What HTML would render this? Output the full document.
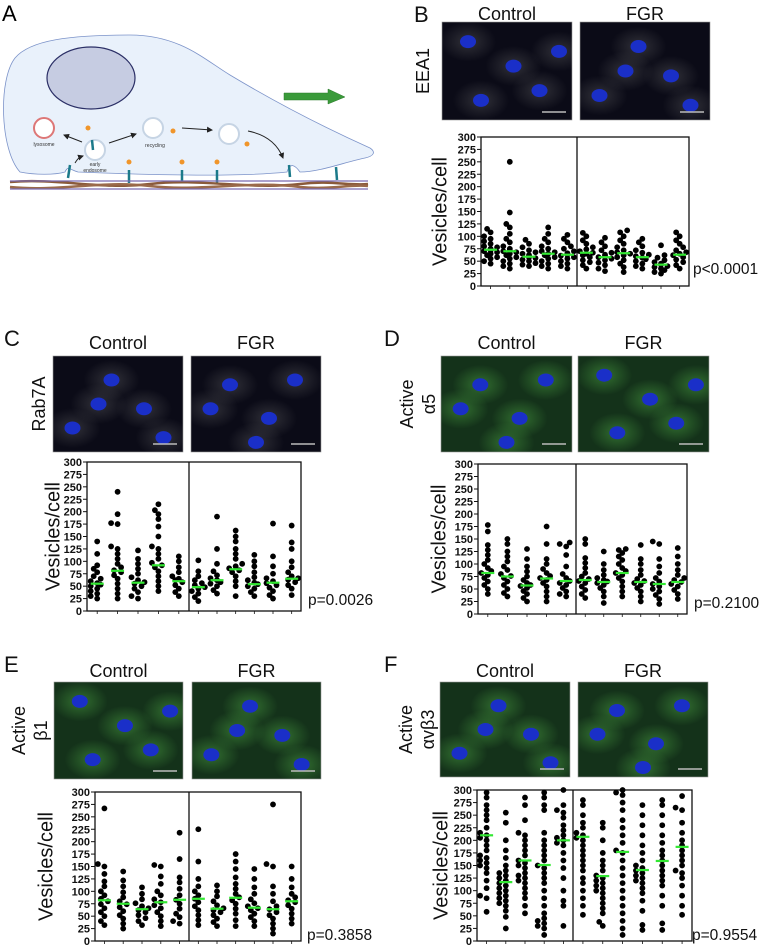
<!DOCTYPE html>
<html><head><meta charset="utf-8">
<style>
html,body{margin:0;padding:0;background:#fff;}
svg{display:block;font-family:"Liberation Sans",Arial,sans-serif;}
.tick{font-size:11px;font-weight:bold;fill:#111;}
</style></head>
<body>
<svg id="fig" width="760" height="947" viewBox="0 0 760 947" xmlns="http://www.w3.org/2000/svg">
<defs id="defs">
<radialGradient id="gs" cx="50%" cy="50%" r="50%"><stop offset="0" stop-color="#3f8a3a" stop-opacity="0.7"/><stop offset="1" stop-color="#3f8a3a" stop-opacity="0"/></radialGradient>
<radialGradient id="gg" cx="50%" cy="50%" r="50%"><stop offset="0" stop-color="#777" stop-opacity="0.35"/><stop offset="1" stop-color="#777" stop-opacity="0"/></radialGradient>
<marker id="ah" markerWidth="6" markerHeight="6" refX="5" refY="3" orient="auto"><path d="M0,0 L6,3 L0,6z" fill="#222"/></marker>
</defs>

<!-- Panel A -->
<g>
<text x="2" y="21" font-size="22">A</text>
<path d="M20,172 C0,150 -2,80 15,58 C30,40 70,35 130,35 C180,35 205,60 230,75 C280,105 330,130 370,148 C376,152 374,156 365,158 C345,162 320,172 300,172 C295,165 290,162 287,172 C240,177 150,175 78,172 C70,170 68,165 65,172 C55,175 35,175 20,172Z" fill="#e9f1fb" stroke="#7c93c9" stroke-width="0.8"/>
<ellipse cx="91" cy="78" rx="44" ry="31" fill="#c6cce2" stroke="#2b2f66" stroke-width="1.2"/>
<path d="M284,93 L328,93 L328,89 L345,97 L328,104 L328,100 L284,100Z" fill="#3a9a3a" stroke="#2b7a2b" stroke-width="0.5"/>
<circle cx="44" cy="128" r="10" fill="#fff" stroke="#d77" stroke-width="2"/>
<text x="44" y="146" font-size="5" text-anchor="middle" fill="#333">lysosome</text>
<circle cx="95" cy="150" r="10" fill="#fff" stroke="#c6d4e4" stroke-width="2"/>
<text x="95" y="166" font-size="5" text-anchor="middle" fill="#333">early</text>
<text x="95" y="172" font-size="5" text-anchor="middle" fill="#333">endosome</text>
<circle cx="153" cy="128" r="10" fill="#fff" stroke="#c6d4e4" stroke-width="2"/>
<text x="155" y="147" font-size="5" text-anchor="middle" fill="#333">recycling</text>
<circle cx="229" cy="134" r="10" fill="#fff" stroke="#c6d4e4" stroke-width="2"/>
<line x1="82" y1="142" x2="64" y2="135" stroke="#222" marker-end="url(#ah)"/>
<line x1="109" y1="143" x2="136" y2="134" stroke="#222" marker-end="url(#ah)"/>
<line x1="182" y1="128" x2="212" y2="130" stroke="#222" marker-end="url(#ah)"/>
<path d="M248,131 C268,135 278,145 283,158" fill="none" stroke="#222" marker-end="url(#ah)"/>
<path d="M75,163 C78,158 80,157 83,156" fill="none" stroke="#222" marker-end="url(#ah)"/>
<g fill="#f0952a"><circle cx="88" cy="128" r="2.5"/><circle cx="129" cy="162" r="2.5"/><circle cx="182" cy="162" r="2.5"/><circle cx="217" cy="162" r="2.5"/><circle cx="173" cy="131" r="2.5"/><circle cx="247" cy="144" r="2.5"/></g>
<g stroke="#1c7a8a" stroke-width="2.5"><line x1="70" y1="165" x2="68" y2="178"/><line x1="129" y1="170" x2="129" y2="183"/><line x1="182" y1="170" x2="182" y2="183"/><line x1="217" y1="170" x2="217" y2="183"/><line x1="289" y1="165" x2="290" y2="177"/><line x1="336" y1="167" x2="337" y2="180"/><line x1="92" y1="140" x2="93" y2="150"/></g>
<g>
<path d="M10,182 C60,178 100,190 150,184 C200,178 250,190 300,184 C330,180 350,186 368,184" fill="none" stroke="#8a5a3a" stroke-width="2.5"/>
<path d="M10,187 C60,192 100,180 150,186 C200,192 250,180 300,187 C330,190 350,184 368,186" fill="none" stroke="#9a6a4a" stroke-width="2.5"/>
<line x1="10" y1="181" x2="368" y2="181" stroke="#7a6ab0" stroke-width="1.2"/>
<line x1="10" y1="189" x2="368" y2="189" stroke="#7a6ab0" stroke-width="1.2"/>
</g>
</g>

<g id="panels"></g>
</svg>

<script>
// ---------- shared tick data ----------
const yTickValues = [0,25,50,75,100,125,150,175,200,225,250,275,300];

// ---------- Panel B (EEA1) ----------
const bMedians = [73,70,59,65,63,67,58,66,58,43,63];
const bValues = [
[45,50,55,58,62,65,68,70,72,74,75,78,80,85,90,95,100,108,115],
[35,40,45,50,55,58,62,65,68,70,72,75,80,88,95,105,118,125,148,250],
[40,43,46,50,53,56,58,60,62,65,68,72,78,85,93],
[35,40,45,50,55,58,62,65,68,70,75,80,88,95,105,118],
[35,40,45,50,55,58,61,63,66,70,75,80,88,95,103],
[35,42,48,52,58,62,65,67,70,74,78,85,92,100,107],
[30,35,42,47,52,55,58,60,63,67,72,80,88,97],
[28,38,45,52,58,62,65,68,72,78,85,92,100,108,112],
[35,40,45,50,54,57,60,63,67,72,80,88,95],
[25,28,32,35,38,40,43,45,48,52,57,62,82],
[35,42,48,53,58,62,65,68,72,78,85,92,100,108]];

// ---------- Panel C (Rab7A) ----------
const cMedians = [55,81,57,92,60,48,62,84,54,57,65];
const cValues = [
[25,30,35,40,45,50,53,56,60,65,70,78,85,92,115,140],
[25,35,45,55,65,72,78,82,88,95,105,115,125,130,175,177,195,240],
[25,30,38,45,50,55,58,62,68,75,85,95,105,122],
[40,50,60,70,80,88,92,97,105,115,125,130,150,170,185,195,203,215],
[30,38,45,52,58,62,65,70,78,88,100,110],
[20,28,35,40,45,48,52,56,62,70,80,102],
[35,42,50,55,58,62,66,72,80,95,125,190],
[30,50,60,70,78,82,86,90,95,105,115,125,140,150,162],
[30,38,45,50,54,57,62,68,78,90,100,113],
[25,32,40,47,52,56,60,66,75,90,110,176],
[32,45,52,58,63,66,70,78,88,100,125,138,172]];

// ---------- Panel D (Active a5) ----------
const dMedians = [82,75,57,71,66,68,64,82,64,60,64];
const dValues = [
[40,50,58,65,72,78,82,86,92,100,108,118,128,138,165,178],
[35,42,50,58,65,72,76,80,88,95,105,115,125,140,150],
[25,32,40,46,52,56,58,62,68,75,85,95,110,130],
[25,35,45,55,62,68,72,76,82,90,100,110,140,175],
[35,40,45,52,58,62,66,72,80,95,118,135,140,143],
[32,40,48,55,62,66,70,75,82,92,102,112,140,150],
[22,35,45,52,58,62,65,68,72,78,88,100,125],
[35,45,55,65,72,78,82,86,92,100,108,115,122,128,130],
[25,35,45,52,58,62,66,70,78,88,100,110,138],
[20,30,38,45,50,55,60,65,72,82,95,110,140,145],
[30,40,48,55,60,64,68,72,78,88,100,115,132]];

// ---------- Panel E (Active b1) ----------
const eMedians = [82,75,64,78,83,85,65,87,67,64,80];
const eValues = [
[32,40,50,58,66,74,80,85,92,100,110,120,135,150,155,267],
[25,35,45,52,60,68,74,80,88,98,110,122,140],
[32,40,46,52,58,62,66,70,76,84,95,108],
[30,40,50,58,66,72,78,84,92,100,115,130,150,153],
[35,40,48,55,65,75,83,92,105,118,128,165,218],
[32,42,52,62,70,78,85,92,100,110,125,160,225],
[30,38,45,52,58,62,66,72,80,90,100,112],
[30,42,55,65,75,82,88,95,105,115,128,145,160,175],
[30,40,48,55,62,66,70,76,84,95,108,125,145],
[15,25,35,45,52,58,64,70,80,95,110,150,155,275],
[35,45,55,65,72,78,82,88,95,108,125,150]];

// ---------- Panel F (Active avb3) ----------
const fMedians = [210,117,160,151,200,207,129,177,141,159,187];
const fValues = [
[58,85,90,105,120,135,145,150,155,160,165,170,180,190,200,205,210,215,225,240,250,260,270,285,295],
[25,48,60,70,75,80,85,90,95,100,105,110,115,120,125,130,135,140,150,165,180,200,235,255],
[55,70,85,95,105,115,120,125,130,135,145,150,155,160,170,180,190,200,210,215,240,270,285],
[12,25,30,35,40,45,55,70,85,100,115,125,135,145,150,160,170,180,190,200,215,260,270,285,295],
[30,70,80,100,125,145,160,175,190,195,200,205,210,220,230,245,255,260,270,300],
[52,70,85,100,115,125,140,150,160,170,180,190,200,205,210,215,225,235,250,270,280],
[30,38,55,65,75,85,95,100,105,110,115,120,125,130,140,150,160,175,200,225,235],
[12,25,40,55,70,85,100,115,130,145,160,175,180,195,210,225,240,260,275,290,295,300],
[22,32,60,80,95,105,115,120,125,130,135,140,145,150,160,175,190,210,230,250,270],
[22,35,70,90,110,120,130,140,150,160,170,180,195,210,230,250,270,280],
[52,70,90,110,125,135,140,150,160,170,180,190,200,215,235,260,265,288]];

const pLabels = ["p<0.0001","p=0.0026","p=0.2100","p=0.3858","p=0.9554"];
const stainLines = [["EEA1"],["Rab7A"],["Active","\u03b15"],["Active","\u03b21"],["Active","\u03b1v\u03b23"]];

const NS = "http://www.w3.org/2000/svg";
const root = document.getElementById("panels");
const defs = document.getElementById("defs");
function mk(tag, attrs, parent){
  const e = document.createElementNS(NS, tag);
  for (const k in attrs) e.setAttribute(k, attrs[k]);
  (parent||root).appendChild(e);
  return e;
}

const layouts = [
 {key:"b", letter:"B", lx:414, ly:22, L:481, R:689, T:137, B:286, D:577, imgX:[442,580], imgY:22, imgH:98, imgW:130, hdrY:20, stainX:424, yLabX:441, pX:693, pY:274, green:false, vals:bValues, med:bMedians, idx:0},
 {key:"c", letter:"C", lx:4, ly:346, L:87, R:301, T:462, B:611, D:189, imgX:[53,191], imgY:356, imgH:96, imgW:130, hdrY:349, stainX:40, yLabX:54, pX:308, pY:605, green:false, vals:cValues, med:cMedians, idx:1},
 {key:"d", letter:"D", lx:384, ly:346, L:478, R:687, T:464, B:614, D:576, imgX:[441,578], imgY:356, imgH:96, imgW:131, hdrY:349, stainX:418, yLabX:440, pX:694, pY:608, green:true, vals:dValues, med:dMedians, idx:2},
 {key:"e", letter:"E", lx:4, ly:672, L:95, R:301, T:792, B:941, D:189, imgX:[54,192], imgY:682, imgH:97, imgW:129, hdrY:677, stainX:30, yLabX:47, pX:307, pY:940, green:true, vals:eValues, med:eMedians, idx:3},
 {key:"f", letter:"F", lx:384, ly:672, L:477, R:692, T:790, B:941, D:573, imgX:[440,578], imgY:682, imgH:95, imgW:130, hdrY:677, stainX:417, yLabX:442, pX:692, pY:940, green:true, vals:fValues, med:fMedians, idx:4}
];

const nucleiSets = [
 [[0.2,0.2],[0.55,0.45],[0.75,0.7],[0.3,0.8],[0.9,0.3]],
 [[0.15,0.75],[0.45,0.25],[0.7,0.55],[0.85,0.85],[0.35,0.5]],
 [[0.3,0.3],[0.6,0.65],[0.15,0.55],[0.8,0.25],[0.5,0.9]]
];

layouts.forEach((P, pi) => {
  const g = mk("g", {});
  
  
  const lab = mk("text", {x:P.lx, y:P.ly, "font-size":22, fill:"#111"}, g);
  lab.textContent = P.letter;
  
  

  ["Control","FGR"].forEach((h, hi) => {
    const t = mk("text", {x:P.imgX[hi]+P.imgW/2, y:P.hdrY, "font-size":18, "text-anchor":"middle", fill:"#111"}, g);
    t.textContent = h;
    
    
    const x0 = P.imgX[hi], y0 = P.imgY, w = P.imgW, hh = P.imgH;
    const cid = "clip-" + P.key + hi;
    const cp = mk("clipPath", {id:cid}, defs);
    mk("rect", {x:x0, y:y0, width:w, height:hh}, cp);
    const ig = mk("g", {"clip-path":`url(#${cid})`}, g);
    
    
    mk("rect", {x:x0, y:y0, width:w, height:hh, fill: P.green ? "#14321a" : "#0b0b17"}, ig);
    const ns = nucleiSets[(pi+hi)%3];
    ns.forEach(n => {
      mk("ellipse", {cx:x0+n[0]*w, cy:y0+n[1]*hh, rx:28, ry:20, fill: P.green ? "url(#gs)" : "url(#gg)"}, ig);
    });
    ns.forEach(n => {
      mk("ellipse", {cx:x0+n[0]*w, cy:y0+n[1]*hh, rx:8, ry:6.5, fill:"#1a2fc8"}, ig);
    });
    mk("line", {x1:x0+w-30, y1:y0+hh-8, x2:x0+w-6, y2:y0+hh-8, stroke:"#bbb", "stroke-width":1.5}, ig);
    mk("rect", {x:x0, y:y0, width:w, height:hh, fill:"none", stroke:"#999", "stroke-width":0.6}, g);
  });

  const lines = stainLines[P.idx];
  const cy = P.imgY + P.imgH/2;
  lines.forEach((s, li) => {
    const x = P.stainX + (lines.length === 1 ? 0 : (li === 0 ? -10 : 12));
    const t = mk("text", {x:x, y:cy, "font-size":18, "text-anchor":"middle", fill:"#111", transform:`rotate(-90 ${x} ${cy})`, "dominant-baseline":"middle"}, g);
    t.textContent = s;
    
    
  });

  const yS = v => P.B - (v/300)*(P.B - P.T);
  const frame = mk("rect", {x:P.L, y:P.T, width:P.R-P.L, height:P.B-P.T, fill:"none", stroke:"#111", "stroke-width":1.3}, g);
  
  
  mk("line", {x1:P.D, y1:P.T, x2:P.D, y2:P.B, stroke:"#111", "stroke-width":1.3}, g);
  yTickValues.forEach(v => {
    const y = yS(v);
    mk("line", {x1:P.L-4, y1:y, x2:P.L, y2:y, stroke:"#111", "stroke-width":1}, g);
    const t = mk("text", {x:P.L-5, y:y+4, "text-anchor":"end", "class":"tick"}, g);
    t.textContent = v;
    
    
  });
  const yl = mk("text", {x:P.yLabX, y:(P.T+P.B)/2, "font-size":20, "text-anchor":"middle", fill:"#111", "dominant-baseline":"middle", transform:`rotate(-90 ${P.yLabX} ${(P.T+P.B)/2})`}, g);
  yl.textContent = "Vesicles/cell";
  
  
  const pt = mk("text", {x:P.pX, y:P.pY, "font-size":15.5, fill:"#111"}, g);
  pt.textContent = pLabels[P.idx];
  
  

  const colX = [];
  const cw = (P.D - P.L)/5, fw = (P.R - P.D)/6;
  for (let i=0;i<5;i++) colX.push(P.L + cw*(i+0.5));
  for (let i=0;i<6;i++) colX.push(P.D + fw*(i+0.5));
  const r = 2.9;
  P.vals.forEach((vals, ci) => {
    const cx = colX[ci];
    mk("line", {x1:cx, y1:P.B, x2:cx, y2:P.B+3, stroke:"#111", "stroke-width":0.8}, g);
    const cg = mk("g", {}, g);
    
    
    const placed = [];
    vals.slice().sort((a,b)=>a-b).forEach(v => {
      const y = yS(v);
      const cands = [0,-3.5,3.5,-6.5,6.5];
      let best = null;
      for (const dx of cands) {
        if (placed.every(p => Math.hypot(p[0]-dx, p[1]-y) >= 2*r - 1.2)) { best = dx; break; }
      }
      const px = best === null ? 0 : best;
      placed.push([px, y]);
      const c = mk("circle", {cx:cx+px, cy:y, r:r, fill:"#000"}, cg);
      
      
    });
    const m = mk("line", {x1:cx-6.5, y1:yS(P.med[ci]), x2:cx+6.5, y2:yS(P.med[ci]), stroke:"#33e833", "stroke-width":2.2}, g);
    
    
  });
});
</script>
</body></html>
